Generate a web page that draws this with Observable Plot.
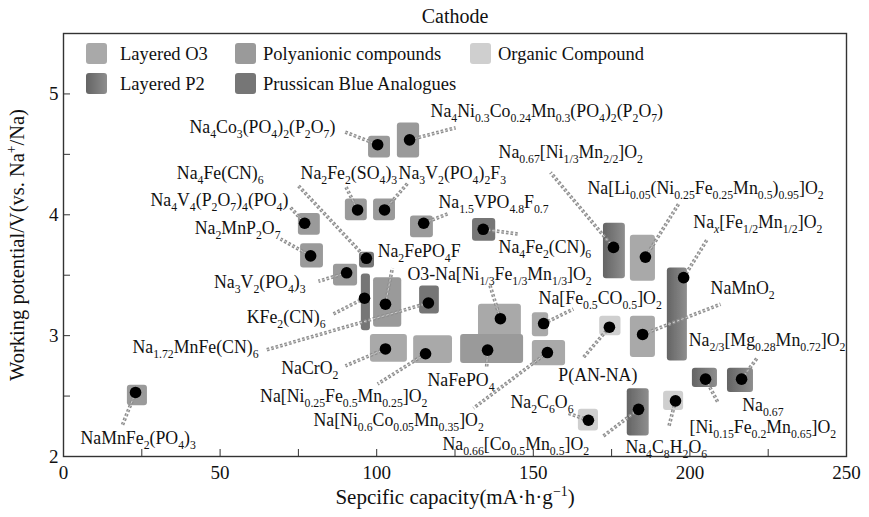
<!DOCTYPE html>
<html><head><meta charset="utf-8">
<script src="https://cdn.jsdelivr.net/npm/d3@7"></script>
<script src="https://cdn.jsdelivr.net/npm/@observablehq/plot@0.6"></script>
<style>
body{margin:0;background:#fff;}
#wrap{position:relative;width:869px;height:517px;font-family:"Liberation Serif",serif;}
.sw{position:absolute;width:21px;height:21px;border-radius:3px;filter:blur(0.6px);}
.lt{position:absolute;font-size:18.5px;line-height:20px;color:#111;white-space:nowrap;}
</style></head><body><div id="wrap"></div>
<script>
// ---------- data ----------
const categoryNames = ["Layered O3", "Polyanionic compounds", "Organic Compound", "Layered P2", "Prussican Blue Analogues"];
const palette = ["#a9a9a9", "#9a9a9a", "#cfcfcf", "url(#gP2)", "#767676"];
const legendCss = ["#a9a9a9", "#9a9a9a", "#cfcfcf", "linear-gradient(90deg,#646464,#8e8e8e)", "#767676"];

const names = [
  "NaMnFe_{2}(PO_{4})_{3}",
  "Na_{4}Co_{3}(PO_{4})_{2}(P_{2}O_{7})",
  "Na_{4}Ni_{0.3}Co_{0.24}Mn_{0.3}(PO_{4})_{2}(P_{2}O_{7})",
  "Na_{2}Fe_{2}(SO_{4})_{3}",
  "Na_{3}V_{2}(PO_{4})_{2}F_{3}",
  "Na_{1.5}VPO_{4.8}F_{0.7}",
  "Na_{4}Fe_{2}(CN)_{6}",
  "Na_{4}V_{4}(P_{2}O_{7})_{4}(PO_{4})",
  "Na_{2}MnP_{2}O_{7}",
  "Na_{4}Fe(CN)_{6}",
  "Na_{3}V_{2}(PO_{4})_{3}",
  "KFe_{2}(CN)_{6}",
  "Na_{2}FePO_{4}F",
  "Na_{1.72}MnFe(CN)_{6}",
  "O3-Na[Ni_{1/3}Fe_{1/3}Mn_{1/3}]O_{2}",
  "Na[Fe_{0.5}CO_{0.5}]O_{2}",
  "NaCrO_{2}",
  "Na[Ni_{0.25}Fe_{0.5}Mn_{0.25}]O_{2}",
  "Na[Ni_{0.6}Co_{0.05}Mn_{0.35}]O_{2}",
  "NaFePO_{4}",
  "Na_{0.67}[Ni_{1/3}Mn_{2/2}]O_{2}",
  "Na[Li_{0.05}(Ni_{0.25}Fe_{0.25}Mn_{0.5})_{0.95}]O_{2}",
  "Na_{x}[Fe_{1/2}Mn_{1/2}]O_{2}",
  "NaMnO_{2}",
  "P(AN-NA)",
  "Na_{2/3}[Mg_{0.28}Mn_{0.72}]O_{2}",
  "Na_{0.67}[Ni_{0.15}Fe_{0.2}Mn_{0.65}]O_{2}",
  "Na_{2}C_{6}O_{6}",
  "Na_{0.66}[Co_{0.5}Mn_{0.5}]O_{2}",
  "Na_{4}C_{8}H_{2}O_{6}"
];
const categories = [
  "Polyanionic compounds","Polyanionic compounds","Polyanionic compounds","Polyanionic compounds","Polyanionic compounds",
  "Polyanionic compounds","Prussican Blue Analogues","Polyanionic compounds","Polyanionic compounds","Prussican Blue Analogues",
  "Polyanionic compounds","Prussican Blue Analogues","Polyanionic compounds","Prussican Blue Analogues","Layered O3",
  "Layered O3","Layered O3","Layered O3","Layered O3","Polyanionic compounds",
  "Layered P2","Layered O3","Layered P2","Layered O3","Organic Compound",
  "Layered P2","Layered P2","Organic Compound","Layered P2","Organic Compound"
];
// specific capacity (mA·h/g) and working potential (V) of each material
const capacity  = [23.0,100.3,110.5,93.9,102.5,115.0,134.0,77.0,78.9,96.7,90.4,96.1,102.8,116.5,139.5,153.3,102.8,115.6,154.5,135.4,175.6,185.8,198.0,184.9,174.3,216.5,205.0,167.6,183.6,195.4];
const potential = [2.53,4.58,4.62,4.04,4.04,3.93,3.88,3.93,3.66,3.64,3.52,3.31,3.26,3.27,3.14,3.10,2.89,2.85,2.86,2.88,3.73,3.65,3.48,3.01,3.07,2.64,2.64,2.30,2.39,2.46];
// ranges (shaded boxes)
const capMin = [20.4,97.4,106.6,90.0,99.0,110.8,130.6,75.0,75.7,94.5,86.2,95.1,99.0,113.7,132.5,149.7,98.0,111.8,149.7,126.8,172.4,181.0,192.8,181.0,171.2,212.0,200.8,164.4,180.0,191.6];
const capMax = [26.8,104.4,113.7,97.0,106.0,118.1,138.0,82.0,83.0,99.3,93.9,98.0,108.0,120.0,146.2,154.9,109.8,124.2,160.3,146.9,179.4,189.0,199.2,189.0,178.0,220.3,208.8,170.8,187.0,198.0];
const potMin = [2.42,4.47,4.47,3.95,3.95,3.81,3.78,3.83,3.56,3.56,3.41,3.04,3.07,3.18,2.94,2.99,2.78,2.77,2.75,2.77,3.47,3.45,2.79,2.82,3.00,2.53,2.57,2.21,2.17,2.38];
const potMax = [2.59,4.65,4.76,4.13,4.13,3.99,3.97,4.01,3.76,3.69,3.59,3.51,3.48,3.41,3.26,3.19,3.01,3.00,2.96,3.01,3.93,3.83,3.56,3.16,3.16,2.73,2.73,2.39,2.56,2.54];
// leader line end points (data units)
const leaderCap = [18.8,89.4,125.2,90.0,110.2,122.9,145.3,72.5,69.3,75.0,81.4,86.2,105.0,64.5,136.0,162.8,90.0,100.3,130.9,135.1,155.5,196.4,205.6,209.8,166.0,221.6,209.1,160.9,172.4,193.2];
const leaderPot = [2.26,4.69,4.72,4.24,4.27,4.01,3.84,4.06,3.80,4.24,3.45,3.18,3.56,2.88,3.43,3.22,2.75,2.60,2.40,2.74,4.35,4.09,3.80,3.26,2.82,2.82,2.44,2.36,2.17,2.24];
// annotation text anchors (data units)
const labelText = [
  "NaMnFe_{2}(PO_{4})_{3}","Na_{4}Co_{3}(PO_{4})_{2}(P_{2}O_{7})","Na_{4}Ni_{0.3}Co_{0.24}Mn_{0.3}(PO_{4})_{2}(P_{2}O_{7})",
  "Na_{2}Fe_{2}(SO_{4})_{3}","Na_{3}V_{2}(PO_{4})_{2}F_{3}","Na_{1.5}VPO_{4.8}F_{0.7}","Na_{4}Fe_{2}(CN)_{6}",
  "Na_{4}V_{4}(P_{2}O_{7})_{4}(PO_{4})","Na_{2}MnP_{2}O_{7}","Na_{4}Fe(CN)_{6}","Na_{3}V_{2}(PO_{4})_{3}","KFe_{2}(CN)_{6}",
  "Na_{2}FePO_{4}F","Na_{1.72}MnFe(CN)_{6}","O3-Na[Ni_{1/3}Fe_{1/3}Mn_{1/3}]O_{2}","Na[Fe_{0.5}CO_{0.5}]O_{2}","NaCrO_{2}",
  "Na[Ni_{0.25}Fe_{0.5}Mn_{0.25}]O_{2}","Na[Ni_{0.6}Co_{0.05}Mn_{0.35}]O_{2}","NaFePO_{4}","Na_{0.67}[Ni_{1/3}Mn_{2/2}]O_{2}",
  "Na[Li_{0.05}(Ni_{0.25}Fe_{0.25}Mn_{0.5})_{0.95}]O_{2}","Na_{x}[Fe_{1/2}Mn_{1/2}]O_{2}","NaMnO_{2}","P(AN-NA)",
  "Na_{2/3}[Mg_{0.28}Mn_{0.72}]O_{2}","Na_{0.67}","[Ni_{0.15}Fe_{0.2}Mn_{0.65}]O_{2}","Na_{2}C_{6}O_{6}",
  "Na_{0.66}[Co_{0.5}Mn_{0.5}]O_{2}","Na_{4}C_{8}H_{2}O_{6}"
];
const labelCap = [5.4,86.8,117.2,75.7,107.0,119.7,138.9,71.8,69.3,63.9,77.3,83.7,100.3,62.3,109.8,151.7,87.8,116.2,79.8,116.2,138.9,167.3,201.1,206.6,158.0,199.6,223.3,223.3,142.7,121.0,179.4];
const labelPot = [2.147,4.72,4.86,4.34,4.34,4.10,3.73,4.12,3.89,4.34,3.44,3.15,3.70,2.90,3.51,3.31,2.73,2.50,2.30,2.63,4.52,4.22,3.94,3.39,2.67,2.96,2.425,2.24,2.45,2.10,2.08];
const labelAlign = ["start","end","start","start","start","start","start","end","end","end","end","end","start","end","start","start","end","end","start","start","start","start","start","start","start","start","middle","middle","start","start","start"];

const xTicks = [0, 50, 100, 150, 200, 250];
const xMinorTicks = [0, 25, 50, 75, 100, 125, 150, 175, 200, 225, 250];
const yTicks = [2, 3, 4, 5];
const yMinorTicks = [2, 2.5, 3, 3.5, 4, 4.5, 5, 5.5];
const title = "Cathode";
const xTitle = "Sepcific capacity(mA·h·g^{−1})";
const yTitle = "Working potential/V(vs. Na^{+}/Na)";

// ---------- build ----------
const materials = names.map((n, i) => ({
  name: n, cat: categories[i], cap: capacity[i], pot: potential[i],
  x1: capMin[i], x2: capMax[i], y1: potMin[i], y2: potMax[i],
  lx: leaderCap[i], ly: leaderPot[i]
}));
const labels = labelText.map((t, i) => ({t, x: labelCap[i], y: labelPot[i], a: labelAlign[i]}));
const textOpts = a => ({x: "x", y: "y", text: "t", textAnchor: a, fontSize: 17.8, fill: "#111"});
const leader = {x1: "cap", y1: "pot", x2: "lx", y2: "ly", strokeDasharray: "2.6,2"};

const svg = Plot.plot({
  width: 869, height: 517,
  marginLeft: 63, marginRight: 23, marginTop: 33, marginBottom: 61,
  x: {domain: [0, 250], label: null},
  y: {domain: [2, 5.5], label: null},
  color: {domain: categoryNames, range: palette},
  style: {fontFamily: '"Liberation Serif", serif', fontSize: "18px", background: "white", color: "#111", overflow: "visible"},
  marks: [
    Plot.rect(materials, {x1: "x1", x2: "x2", y1: "y1", y2: "y2", fill: "cat", rx: 3}),
    Plot.link(materials, {...leader, stroke: "#8e8e8e", strokeWidth: 3.6}),
    Plot.link(materials, {...leader, stroke: "#ffffff", strokeOpacity: 0.55, strokeWidth: 1}),
    Plot.dot(materials, {x: "cap", y: "pot", r: 5.8, fill: "#000"}),
    Plot.text(labels.filter(d => d.a === "start"), textOpts("start")),
    Plot.text(labels.filter(d => d.a === "end"), textOpts("end")),
    Plot.text(labels.filter(d => d.a === "middle"), textOpts("middle")),
    Plot.frame({stroke: "#333", strokeWidth: 1.4}),
    Plot.axisX({ticks: xMinorTicks, tickSize: -7, fill: "none", stroke: "#333", label: null}),
    Plot.axisY({ticks: yMinorTicks, tickSize: -7, fill: "none", stroke: "#333", label: null}),
    Plot.axisX({ticks: xTicks, tickSize: 0, tickPadding: 9, tickFormat: d => String(d), fontSize: 19, fill: "#111", label: null}),
    Plot.axisY({ticks: yTicks, tickSize: 0, tickPadding: 5, tickFormat: d => String(d), fontSize: 19, fill: "#111", label: null}),
    Plot.text([title], {frameAnchor: "top", dy: -17, lineAnchor: "middle", textAnchor: "middle", fontSize: 20, fill: "#111"}),
    Plot.text([xTitle], {frameAnchor: "bottom", dy: 41, lineAnchor: "middle", textAnchor: "middle", fontSize: 21, fill: "#111"}),
    Plot.text([yTitle], {frameAnchor: "left", dx: -46, rotate: -90, lineAnchor: "middle", textAnchor: "middle", fontSize: 20.5, fill: "#111"})
  ]
});
const wrap = document.getElementById("wrap");
wrap.append(svg);

// defs: gradient for P2 and soft edges for boxes
const NS = "http://www.w3.org/2000/svg";
const defs = document.createElementNS(NS, "defs");
defs.innerHTML = '<linearGradient id="gP2" x1="0" x2="1" y1="0" y2="0"><stop offset="0" stop-color="#646464"/><stop offset="1" stop-color="#8e8e8e"/></linearGradient>' +
  '<filter id="soft" x="-10%" y="-10%" width="120%" height="120%"><feGaussianBlur stdDeviation="0.7"/></filter>';
svg.insertBefore(defs, svg.firstChild);
const rg = svg.querySelector('g[aria-label="rect"]');
if (rg) rg.setAttribute("filter", "url(#soft)");

// sub/superscript markup -> tspans
function richify(el) {
  const raw = el.textContent;
  if (!/[_^]\{/.test(raw)) return;
  const fs = parseFloat(getComputedStyle(el).fontSize) || 18;
  const parts = [];
  const re = /([_^])\{([^}]*)\}/g;
  let last = 0, m;
  while ((m = re.exec(raw))) {
    if (m.index > last) parts.push({t: raw.slice(last, m.index), mode: 0});
    parts.push({t: m[2], mode: m[1] === "_" ? 1 : -1});
    last = re.lastIndex;
  }
  if (last < raw.length) parts.push({t: raw.slice(last), mode: 0});
  while (el.firstChild) el.removeChild(el.firstChild);
  let cur = 0;
  for (const p of parts) {
    const ts = document.createElementNS(NS, "tspan");
    const target = p.mode === 1 ? 0.28 * fs : p.mode === -1 ? -0.4 * fs : 0;
    if (target !== cur) ts.setAttribute("dy", (target - cur).toFixed(2));
    cur = target;
    if (p.mode) ts.setAttribute("font-size", (0.66 * fs).toFixed(2));
    if (p.t === "x") ts.setAttribute("font-style", "italic");
    ts.textContent = p.t;
    el.appendChild(ts);
  }
}
svg.querySelectorAll("text").forEach(richify);

// legend (inside the frame, top-left)
const legendPos = [[86, 43, 120], [235, 43, 263], [470, 43, 498], [86, 73, 120], [235, 73, 263]];
categoryNames.forEach((c, i) => {
  const [sx, sy, tx] = legendPos[i];
  const sw = document.createElement("div");
  sw.className = "sw";
  sw.style.left = sx + "px"; sw.style.top = sy + "px";
  sw.style.background = legendCss[i];
  const lt = document.createElement("div");
  lt.className = "lt";
  lt.style.left = tx + "px"; lt.style.top = (sy + 1) + "px";
  lt.textContent = c;
  wrap.append(sw, lt);
});
</script></body></html>
